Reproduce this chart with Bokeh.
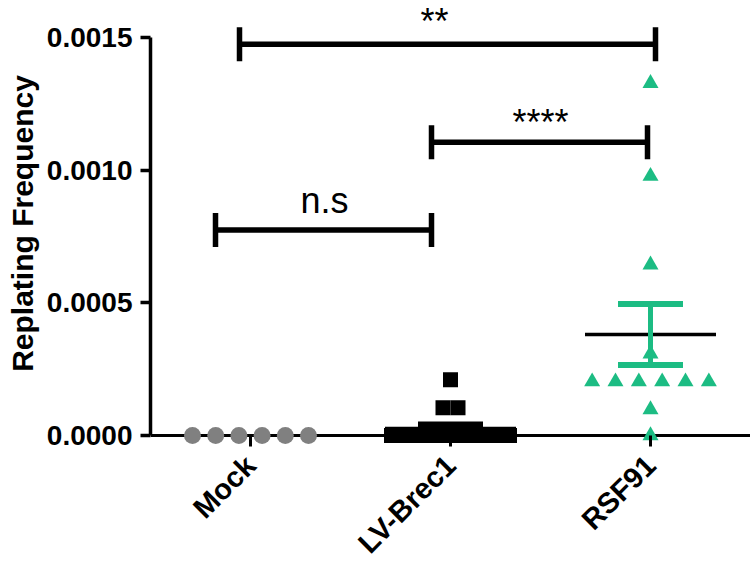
import numpy as np
from math import pi
from bokeh.plotting import figure
from bokeh.models import Range1d, FixedTicker, PrintfTickFormatter, Span
from bokeh.embed import file_html
from bokeh.resources import INLINE
from bokeh.core.properties import value

# ---------------- data ----------------
categories = ["Mock", "LV-Brec1", "RSF91"]
mock_values = [0.0, 0.0, 0.0, 0.0, 0.0, 0.0]
lv_brec1_values = [0.0, 0.0, 0.0, 0.0, 0.0, 0.0, 0.0, 0.0, 0.0, 0.0, 0.0, 0.0, 0.0,
                   0.000105, 0.000105, 0.00021]
rsf91_values = [0.001327, 0.000977, 0.000643, 0.000308,
                0.000203, 0.000203, 0.000203, 0.000203, 0.000203, 0.000203,
                0.0000977, 0.0]
y_ticks = [0.0, 0.0005, 0.0010, 0.0015]

# significance brackets: (from x, to x, bracket height, label, label centre x, label y, label baseline)
comparisons = [
    (0.945, 3.025, 0.001474, "**", 1.92, 0.001639, "top"),
    (1.905, 2.985, 0.001105, "****", 2.45, 0.00118, "alphabetic"),
    (0.825, 1.905, 0.000774, "n.s", 1.37, 0.000887, "alphabetic"),
]

GREEN = "#1CBC83"
GRAY = "#808080"
FONT = "Liberation Sans"

groups = [
    (mock_values, "circle", GRAY, 17, 0.116),
    (lv_brec1_values, "square", "black", 15, 0.075),
    (rsf91_values, "triangle", GREEN, 16, 0.1167),
]


def spread(vals, step, max_half=0.295):
    vals = np.asarray(vals, float)
    offs = np.zeros(len(vals))
    for v in np.unique(vals):
        idx = np.where(vals == v)[0]
        n = len(idx)
        if n > 1:
            s = min(step, 2 * max_half / (n - 1))
            offs[idx] = (np.arange(n) - (n - 1) / 2) * s
    return offs


p = figure(width=750, height=573, output_backend="svg", toolbar_location=None,
           x_range=Range1d(0.5, 3.5), y_range=Range1d(-0.00004135, 0.001639),
           min_border_left=150, min_border_right=0, min_border_top=0, min_border_bottom=126)
p.outline_line_color = None
p.xgrid.visible = False
p.ygrid.visible = False
p.background_fill_color = "white"

# x axis line at y = 0
zero_line = Span(location=0, dimension="width", line_color="black", line_width=3, level="underlay")
p.add_layout(zero_line)

mean_half = 0.3275
cap_half = 0.1625
for i, (vals, marker, color, size, step) in enumerate(groups):
    xc = i + 1
    xs = xc + spread(vals, step)
    p.scatter(xs, vals, marker=marker, size=size, fill_color=color, line_color=None)

for i, (vals, marker, color, size, step) in enumerate(groups):
    xc = i + 1
    arr = np.asarray(vals, float)
    m = arr.mean()
    sem = arr.std(ddof=1) / np.sqrt(len(arr))
    if sem > 0:
        p.segment([xc - mean_half], [m], [xc + mean_half], [m], line_color="black", line_width=3.5)
        p.segment([xc], [m - sem], [xc], [m + sem], line_color=color, line_width=5)
        p.segment([xc - cap_half, xc - cap_half], [m - sem, m + sem],
                  [xc + cap_half, xc + cap_half], [m - sem, m + sem],
                  line_color=color, line_width=6)

# significance brackets
tick_h = 0.000064
for (x0, x1, h, lab, lx, ly, bl) in comparisons:
    p.segment([x0, x0, x1], [h, h - tick_h, h - tick_h], [x1, x0, x1], [h, h + tick_h, h + tick_h],
              line_color="black", line_width=5.5)
    p.text([lx], [ly], text=[lab], text_font=value(FONT), text_font_size="36px",
           text_align="center", text_baseline=bl, text_color="black")

# y axis
ya = p.yaxis[0]
ya.ticker = FixedTicker(ticks=y_ticks)
ya.formatter = PrintfTickFormatter(format="%.4f")
ya.bounds = (0, 0.0015)
ya.axis_line_width = 3.5
ya.axis_line_color = "black"
ya.major_tick_line_width = 3.5
ya.major_tick_line_color = "black"
ya.major_tick_out = 10
ya.major_tick_in = 0
ya.minor_tick_line_color = None
ya.major_label_text_font = FONT
ya.major_label_text_font_style = "bold"
ya.major_label_text_font_size = "28px"
ya.major_label_text_color = "black"
ya.major_label_standoff = 8
ya.axis_label = "Replating Frequency"
ya.axis_label_text_font = FONT
ya.axis_label_text_font_style = "bold"
ya.axis_label_text_font_size = "30px"
ya.axis_label_text_color = "black"
ya.axis_label_standoff = 5

# x axis (line drawn by the zero span; ticks pointing down from y = 0)
xa = p.xaxis[0]
xa.ticker = FixedTicker(ticks=[1, 2, 3])
xa.major_label_overrides = {1: categories[0], 2: categories[1], 3: categories[2]}
xa.major_label_orientation = pi / 4
xa.axis_line_color = None
xa.major_tick_in = 11
xa.major_tick_out = 0
xa.major_tick_line_width = 3
xa.major_tick_line_color = "black"
xa.minor_tick_line_color = None
xa.major_label_text_font = FONT
xa.major_label_text_font_style = "bold"
xa.major_label_text_font_size = "29px"
xa.major_label_text_color = "black"
xa.major_label_standoff = 14

open("out.html", "w").write(file_html(p, INLINE))
